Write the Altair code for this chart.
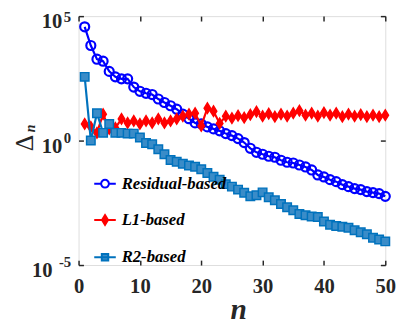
import altair as alt
import pandas as pd

# ---- data (log10 of Delta_n) ----
n_vals = list(range(1, 51))
residual_exp = [4.57, 3.82, 3.27, 3.19, 2.78, 2.56, 2.48, 2.48, 2.15, 1.98,
                1.9, 1.85, 1.67, 1.53, 1.4, 1.26, 1.06, 0.88, 0.71, 0.67,
                0.55, 0.47, 0.39, 0.28, 0.2, 0.08, -0.08, -0.31, -0.47, -0.55,
                -0.63, -0.67, -0.79, -0.87, -0.9, -0.98, -1.06, -1.18, -1.38, -1.46,
                -1.57, -1.65, -1.77, -1.85, -1.93, -1.97, -2.05, -2.09, -2.13, -2.24]
l1_exp = [0.67, 0.55, 0.31, 1.06, 0.47, 0.51, 0.87, 0.71, 0.79, 0.67,
          0.79, 0.71, 0.87, 0.71, 0.79, 0.87, 0.98, 1.06, 1.1, 0.59,
          1.3, 1.18, 0.69, 0.98, 0.9, 1.0, 0.92, 1.04, 1.16, 0.98,
          1.08, 0.96, 1.06, 0.98, 1.1, 1.2, 1.02, 1.1, 0.98, 1.12,
          1.02, 1.1, 0.96, 1.06, 0.98, 1.04, 0.96, 1.02, 0.96, 1.02]
r2_exp = [2.56, 0.0, 1.1, 0.31, 0.67, 0.31, 0.31, 0.28, 0.28, 0.12,
          -0.1, -0.15, -0.35, -0.55, -0.78, -0.85, -0.93, -1.0, -1.05, -1.15,
          -1.3, -1.45, -1.57, -1.75, -1.85, -1.97, -2.1, -2.24, -2.2, -2.08,
          -2.28, -2.4, -2.55, -2.68, -2.8, -2.95, -3.0, -3.05, -3.07, -3.25,
          -3.38, -3.43, -3.46, -3.5, -3.6, -3.68, -3.76, -3.9, -3.97, -4.05]

series_names = ["Residual-based", "L1-based", "R2-based"]
series_colors = ["#0000FF", "#FF0000", "#0072BD"]
series_fills = ["transparent", "#FF0000", "#3A8CC8"]
x_ticks = [0, 10, 20, 30, 40, 50]
y_ticks = [1e-5, 1, 1e5]

rows = []
for name, exps in zip(series_names, [residual_exp, l1_exp, r2_exp]):
    for n, e in zip(n_vals, exps):
        rows.append({"n": n, "series": name, "value": 10 ** e})
df = pd.DataFrame(rows)

W, H = 313, 254
FONT = "Liberation Serif, Times New Roman, serif"
INK = "#262626"

xs = alt.Scale(domain=[0, 50], nice=False)
ys = alt.Scale(type="log", domain=[1e-5, 1e5], nice=False)

base = alt.Chart(df)


def enc_none():
    return dict(
        x=alt.X("n:Q", scale=xs, axis=None),
        y=alt.Y("value:Q", scale=ys, axis=None),
    )


# main axes (labels + titles)
x_main = alt.Axis(orient="bottom", values=x_ticks, ticks=False, domain=False, grid=False,
                  labelFont=FONT, labelFontSize=21, labelFontWeight="bold", labelColor=INK,
                  labelPadding=11, labelFlush=False, labelOverlap=False,
                  title="n", titleFont=FONT, titleFontSize=30, titleFontWeight="bold",
                  titleFontStyle="italic", titleColor=INK, titleX=163, titleY=55,
                  titleBaseline="alphabetic", titleAlign="center")
y_main = alt.Axis(orient="left", values=y_ticks, ticks=False, domain=False, grid=False,
                  labelExpr="'10'", labelFont=FONT, labelFontSize=21, labelFontWeight="bold",
                  labelColor=INK, labelAlign="right", labelBaseline="middle",
                  labelPadding={"condition": {"test": "datum.value < 0.001", "value": 27}, "value": 17},
                  labelOffset=6, labelOverlap=False,
                  title="Δ", titleFont=FONT, titleFontSize=26, titleFontWeight="normal",
                  titleColor=INK, titleAngle=270, titleX=-55, titleY=129,
                  titleAlign="center", titleBaseline="middle")

layers = []
shape_paths = {
    "Residual-based": "circle",
    "L1-based": "M0,-1L0.62,0L0,1L-0.62,0Z",
    "R2-based": "square",
}
sizes = {"Residual-based": 85, "L1-based": 115, "R2-based": 75}
widths = {"Residual-based": 2.2, "L1-based": 1.5, "R2-based": 1.5}
for i, (name, col, fil) in enumerate(zip(series_names, series_colors, series_fills)):
    sub = base.transform_filter(alt.datum.series == name)
    if i == 0:
        line = sub.mark_line(color=col, strokeWidth=2.2).encode(
            x=alt.X("n:Q", scale=xs, axis=x_main),
            y=alt.Y("value:Q", scale=ys, axis=y_main),
        )
    else:
        line = sub.mark_line(color=col, strokeWidth=2.2).encode(**enc_none())
    pts = sub.mark_point(shape=shape_paths[name], size=sizes[name], stroke=col,
                         fill=fil, strokeWidth=widths[name], opacity=1,
                         filled=False).encode(**enc_none())
    layers += [line, pts]

# legend-only layer (no marks drawn)
leg_paths = [
    "M-1,0L-0.36,0M0.36,0L1,0M-0.36,0A0.36,0.36 0 1,0 0.36,0A0.36,0.36 0 1,0 -0.36,0",
    "M-1,0L1,0M0,-0.45L0.28,0L0,0.45L-0.28,0Z",
    "M-1,0L1,0M-0.3,-0.3L0.3,-0.3L0.3,0.3L-0.3,0.3Z",
]
leg = alt.Legend(title=None, orient="none", legendX=15, legendY=159, padding=0,
                 labelFont=FONT, labelFontSize=17, labelFontWeight="bold",
                 labelFontStyle="italic", labelColor="#000000", labelOffset=5,
                 symbolSize=484, symbolStrokeWidth=2, rowPadding=17, symbolOpacity=1)
legend_layer = base.transform_filter("false").mark_point(opacity=1, filled=False, strokeWidth=2).encode(
    x=alt.X("n:Q", scale=xs, axis=None),
    y=alt.Y("value:Q", scale=ys, axis=None),
    shape=alt.Shape("series:N", scale=alt.Scale(domain=series_names, range=leg_paths), legend=leg),
    color=alt.Color("series:N", scale=alt.Scale(domain=series_names, range=series_colors), legend=leg),
    fill=alt.Fill("series:N", scale=alt.Scale(domain=series_names, range=series_fills), legend=leg),
)

# exponent labels and subscript title
exp_layer = base.transform_filter("false").mark_point().encode(
    x=alt.X("n:Q", scale=xs, axis=None),
    y=alt.Y("value:Q", scale=ys, axis=alt.Axis(
        orient="left", values=y_ticks, ticks=False, domain=False, grid=False,
        labelExpr="datum.value > 1000 ? '5' : (datum.value > 0.01 ? '0' : '-5')",
        labelFont=FONT, labelFontSize=15, labelFontWeight="bold", labelColor=INK,
        labelAlign="right", labelBaseline="middle", labelPadding=8,
        labelOffset={"condition": {"test": "datum.value > 1000", "value": 0}, "value": -3},
        labelOverlap=False,
        title="n", titleFont=FONT, titleFontSize=14, titleFontWeight="bold",
        titleFontStyle="italic", titleColor=INK, titleAngle=270, titleX=-49, titleY=114,
        titleAlign="center", titleBaseline="middle")),
)

tick_common = dict(labels=False, domain=False, grid=False, ticks=True, tickSize=5,
                   tickWidth=1.5, tickColor=INK, title=None)
ticks_b = base.transform_filter("false").mark_point().encode(
    x=alt.X("n:Q", scale=xs, axis=alt.Axis(orient="top", offset=-H, values=x_ticks, **tick_common)),
    y=alt.Y("value:Q", scale=ys, axis=alt.Axis(orient="right", offset=-W, values=y_ticks, **tick_common)),
)
ticks_c = base.transform_filter("false").mark_point().encode(
    x=alt.X("n:Q", scale=xs, axis=alt.Axis(orient="bottom", offset=-H, values=x_ticks, **tick_common)),
    y=alt.Y("value:Q", scale=ys, axis=alt.Axis(orient="left", offset=-W, values=y_ticks, **tick_common)),
)

chart = alt.layer(*layers, legend_layer, exp_layer, ticks_b, ticks_c).resolve_axis(
    x="independent", y="independent"
).properties(
    width=W, height=H,
    autosize=alt.AutoSizeParams(type="none"),
    padding={"left": 72, "top": 5, "right": 14, "bottom": 63},
).configure_view(stroke=INK, strokeWidth=2.5).configure(background="white")

chart.save("out.html", embed_options={"renderer": "svg", "actions": False})
